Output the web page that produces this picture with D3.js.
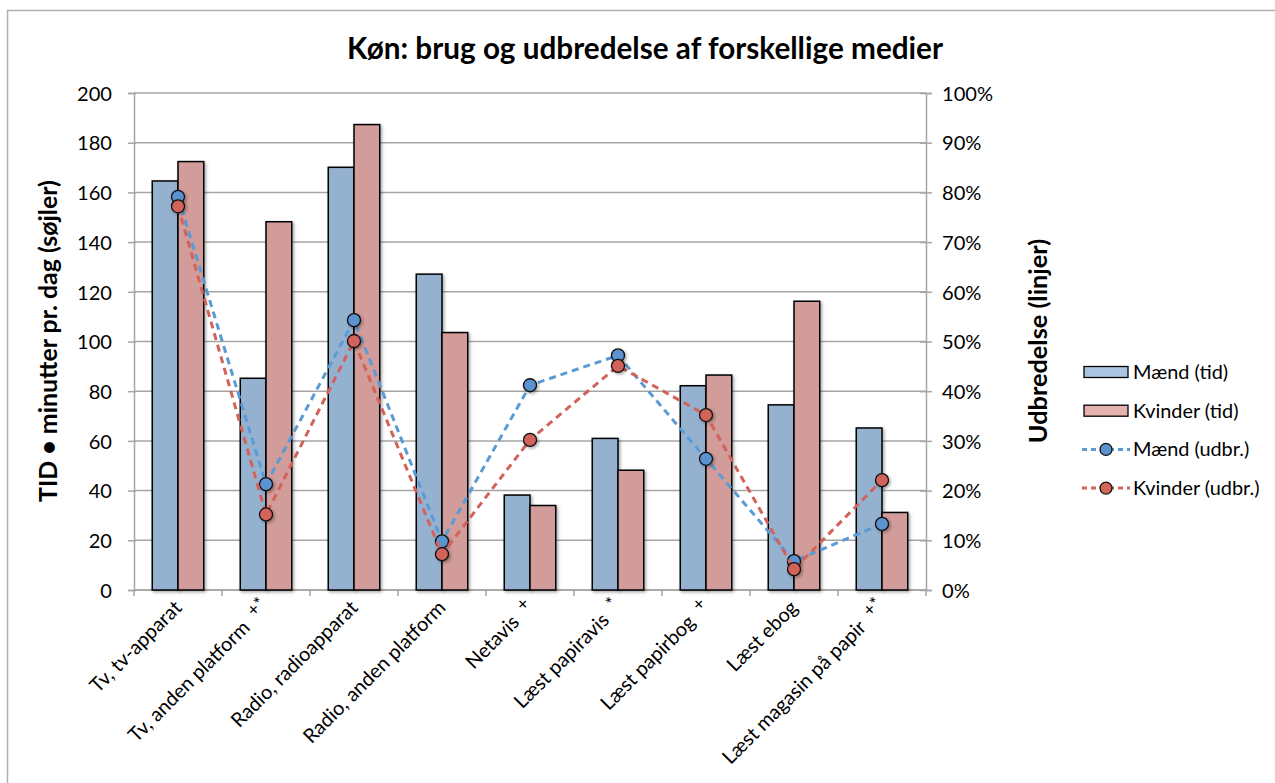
<!DOCTYPE html>
<meta charset="utf-8">
<script src="https://d3js.org/d3.v7.min.js"></script>
<style>
  body { margin: 0; background: #fff; }
  text { font-family: Lato, "Open Sans", sans-serif; fill: #000; }
</style>
<div id="chart"></div>
<script>

// categories and the small markers after some labels
var categories = ["Tv, tv-apparat", "Tv, anden platform", "Radio, radioapparat", "Radio, anden platform",
                  "Netavis", "Læst papiravis", "Læst papirbog", "Læst ebog", "Læst magasin på papir"];
var marks = ["", "+*", "", "", "+", "*", "+", "", "+*"];

// minutes per day (bars)
var maendTid   = [164.6, 85.2, 170.1, 127.1, 38.2, 61.0, 82.2, 74.5, 65.2];
var kvinderTid = [172.4, 148.2, 187.3, 103.6, 34.0, 48.2, 86.5, 116.2, 31.2];

// share (lines), in percent
var maendUdbr   = [79.1, 21.3, 54.3, 9.8, 41.2, 47.2, 26.4, 5.8, 13.3];
var kvinderUdbr = [77.2, 15.2, 50.1, 7.2, 30.2, 45.1, 35.2, 4.2, 22.1];

var leftTicks = [0, 20, 40, 60, 80, 100, 120, 140, 160, 180, 200];
var rightTicks = [0, 10, 20, 30, 40, 50, 60, 70, 80, 90, 100];

var W = 1275, H = 783;
var plot = {left: 134, right: 926, top: 93, bottom: 590};

var svg = d3.select("#chart").append("svg")
    .attr("width", W).attr("height", H);

// font size that makes a string a given width
function fitSize(str, weight, target) {
  var t = svg.append("text").style("font-size", "100px").style("font-weight", weight).text(str);
  var w = t.node().getComputedTextLength();
  t.remove();
  return Math.round(100 * target / w * 10) / 10;
}
var tickSize = fitSize("200", "normal", 35);
var labelSize = fitSize("Tv, tv-apparat", "normal", 120);
var legendSize = fitSize("Mænd (tid)", "normal", 95);

var defs = svg.append("defs");
var f = defs.append("filter").attr("id", "shadow")
    .attr("x", "-20%").attr("y", "-20%").attr("width", "150%").attr("height", "150%");
f.append("feDropShadow").attr("dx", 1.5).attr("dy", 1.5).attr("stdDeviation", 1.5)
    .attr("flood-color", "#000").attr("flood-opacity", 0.35);

// chart frame
svg.append("rect")
    .attr("x", 7.5).attr("y", 10.5).attr("width", W).attr("height", H)
    .attr("fill", "none").attr("stroke", "#b0b0b0").attr("stroke-width", 1.5);

var x = d3.scaleBand().domain(categories).range([plot.left, plot.right]).paddingInner(0).paddingOuter(0);
var y = d3.scaleLinear().domain([0, 200]).range([plot.bottom, plot.top]);
var y2 = d3.scaleLinear().domain([0, 100]).range([plot.bottom, plot.top]);

var groupW = x.bandwidth() * 0.585;
var xs = d3.scaleBand().domain(["m", "k"]).range([0, groupW]);

// gridlines
svg.append("g").selectAll("line").data(leftTicks).join("line")
    .attr("x1", plot.left).attr("x2", plot.right)
    .attr("y1", function(d) { return y(d); }).attr("y2", function(d) { return y(d); })
    .attr("stroke", "#a6a6a6").attr("stroke-width", 1.5);

// left axis
var la = svg.append("g").attr("transform", "translate(" + plot.left + ",0)")
    .call(d3.axisLeft(y).tickValues(leftTicks).tickSize(6).tickPadding(16));
la.select(".domain").attr("stroke", "#a6a6a6").attr("stroke-width", 1.5);
la.selectAll(".tick line").attr("stroke", "#a6a6a6").attr("stroke-width", 1.5).attr("x2", -6).attr("x1", 2);
la.selectAll("text").style("font-size", tickSize + "px").attr("dy", "0.36em");

// right axis
var ra = svg.append("g").attr("transform", "translate(" + plot.right + ",0)")
    .call(d3.axisRight(y2).tickValues(rightTicks).tickSize(6).tickPadding(10)
      .tickFormat(function(d) { return d + "%"; }));
ra.select(".domain").attr("stroke", "#a6a6a6").attr("stroke-width", 1.5);
ra.selectAll(".tick line").attr("stroke", "#a6a6a6").attr("stroke-width", 1.5).attr("x1", -6);
ra.selectAll("text").style("font-size", tickSize + "px").attr("dy", "0.36em");

// bottom axis
var ba = svg.append("g").attr("transform", "translate(0," + plot.bottom + ")");
ba.append("line").attr("x1", plot.left).attr("x2", plot.right)
    .attr("stroke", "#a6a6a6").attr("stroke-width", 1.5);
ba.selectAll(".tk").data(categories.concat(["end"])).join("line")
    .attr("x1", function(d, i) { return plot.left + i * x.step(); })
    .attr("x2", function(d, i) { return plot.left + i * x.step(); })
    .attr("y1", 0).attr("y2", 6)
    .attr("stroke", "#a6a6a6").attr("stroke-width", 1.5);

// bars
var groups = svg.append("g").selectAll("g").data(categories).join("g")
    .attr("transform", function(d) { return "translate(" + (x(d) + (x.bandwidth() - groupW) / 2) + ",0)"; });

groups.append("rect")
    .attr("x", xs("m")).attr("width", xs.bandwidth())
    .attr("y", function(d, i) { return y(maendTid[i]); })
    .attr("height", function(d, i) { return plot.bottom - y(maendTid[i]); })
    .attr("fill", "#95b1d0").attr("stroke", "#000").attr("stroke-width", 1.5)
    .attr("filter", "url(#shadow)");
groups.append("rect")
    .attr("x", xs("k")).attr("width", xs.bandwidth())
    .attr("y", function(d, i) { return y(kvinderTid[i]); })
    .attr("height", function(d, i) { return plot.bottom - y(kvinderTid[i]); })
    .attr("fill", "#d19c99").attr("stroke", "#000").attr("stroke-width", 1.5)
    .attr("filter", "url(#shadow)");

// lines
var cx = function(d, i) { return x(categories[i]) + x.bandwidth() / 2; };
var line = d3.line().x(cx).y(function(d) { return y2(d); });

function drawSeries(vals, lineColor, dotColor) {
  svg.append("path").datum(vals)
      .attr("d", line).attr("fill", "none")
      .attr("stroke", lineColor).attr("stroke-width", 3)
      .attr("stroke-dasharray", "7,5");
  svg.append("g").selectAll("circle").data(vals).join("circle")
      .attr("cx", cx).attr("cy", function(d) { return y2(d); }).attr("r", 6.5)
      .attr("fill", dotColor).attr("stroke", "#111").attr("stroke-width", 1.3)
      .attr("filter", "url(#shadow)");
}
drawSeries(maendUdbr, "#5b9bd5", "#5a93cf");
drawSeries(kvinderUdbr, "#d3625a", "#d2645a");

// x labels
var xl = svg.append("g").selectAll("text").data(categories).join("text")
    .attr("transform", function(d) { return "translate(" + (x(d) + x.bandwidth() / 2) + "," + (plot.bottom + 14) + ") rotate(-45)"; })
    .attr("text-anchor", "end").attr("dy", "0.35em")
    .style("font-size", labelSize + "px");
xl.append("tspan").text(function(d) { return d; });
xl.append("tspan").text(function(d, i) { return marks[i] ? "\u00a0\u00a0" : ""; });
xl.append("tspan").text(function(d, i) { return marks[i]; })
    .attr("baseline-shift", "35%").style("font-size", (labelSize * 0.9) + "px");

// title
svg.append("text").attr("x", 645).attr("y", 59).attr("text-anchor", "middle")
    .style("font-size", fitSize("Køn: brug og udbredelse af forskellige medier", "bold", 597) + "px")
    .style("font-weight", "bold")
    .text("Køn: brug og udbredelse af forskellige medier");

// axis titles
svg.append("text").attr("transform", "translate(48,341) rotate(-90)")
    .attr("text-anchor", "middle").attr("dy", "0.35em")
    .style("font-size", fitSize("TID • minutter pr. dag (søjler)", "bold", 322) + "px")
    .style("font-weight", "bold")
    .text("TID • minutter pr. dag (søjler)");
svg.append("text").attr("transform", "translate(1038,341) rotate(-90)")
    .attr("text-anchor", "middle").attr("dy", "0.35em")
    .style("font-size", fitSize("Udbredelse (linjer)", "bold", 204) + "px")
    .style("font-weight", "bold")
    .text("Udbredelse (linjer)");

// legend
var legendItems = [
  {label: "Mænd (tid)", type: "bar", fill: "#aac4e2"},
  {label: "Kvinder (tid)", type: "bar", fill: "#e5b2af"},
  {label: "Mænd (udbr.)", type: "line", stroke: "#5b9bd5", fill: "#5a93cf"},
  {label: "Kvinder (udbr.)", type: "line", stroke: "#d3625a", fill: "#d2645a"}
];
var lg = svg.append("g").selectAll("g").data(legendItems).join("g")
    .attr("transform", function(d, i) { return "translate(1084," + (372 + i * 38.7) + ")"; });
lg.filter(function(d) { return d.type === "bar"; }).append("rect")
    .attr("x", 0).attr("y", -5.5).attr("width", 44).attr("height", 11)
    .attr("fill", function(d) { return d.fill; }).attr("stroke", "#000").attr("stroke-width", 1.3);
var ll = lg.filter(function(d) { return d.type === "line"; });
ll.append("line").attr("x1", -2).attr("x2", 46)
    .attr("stroke", function(d) { return d.stroke; }).attr("stroke-width", 3).attr("stroke-dasharray", "5,4");
ll.append("circle").attr("cx", 22).attr("r", 6)
    .attr("fill", function(d) { return d.fill; }).attr("stroke", "#111").attr("stroke-width", 1.3);
lg.append("text").attr("x", 49).attr("dy", "0.35em")
    .style("font-size", legendSize + "px").text(function(d) { return d.label; });

</script>
